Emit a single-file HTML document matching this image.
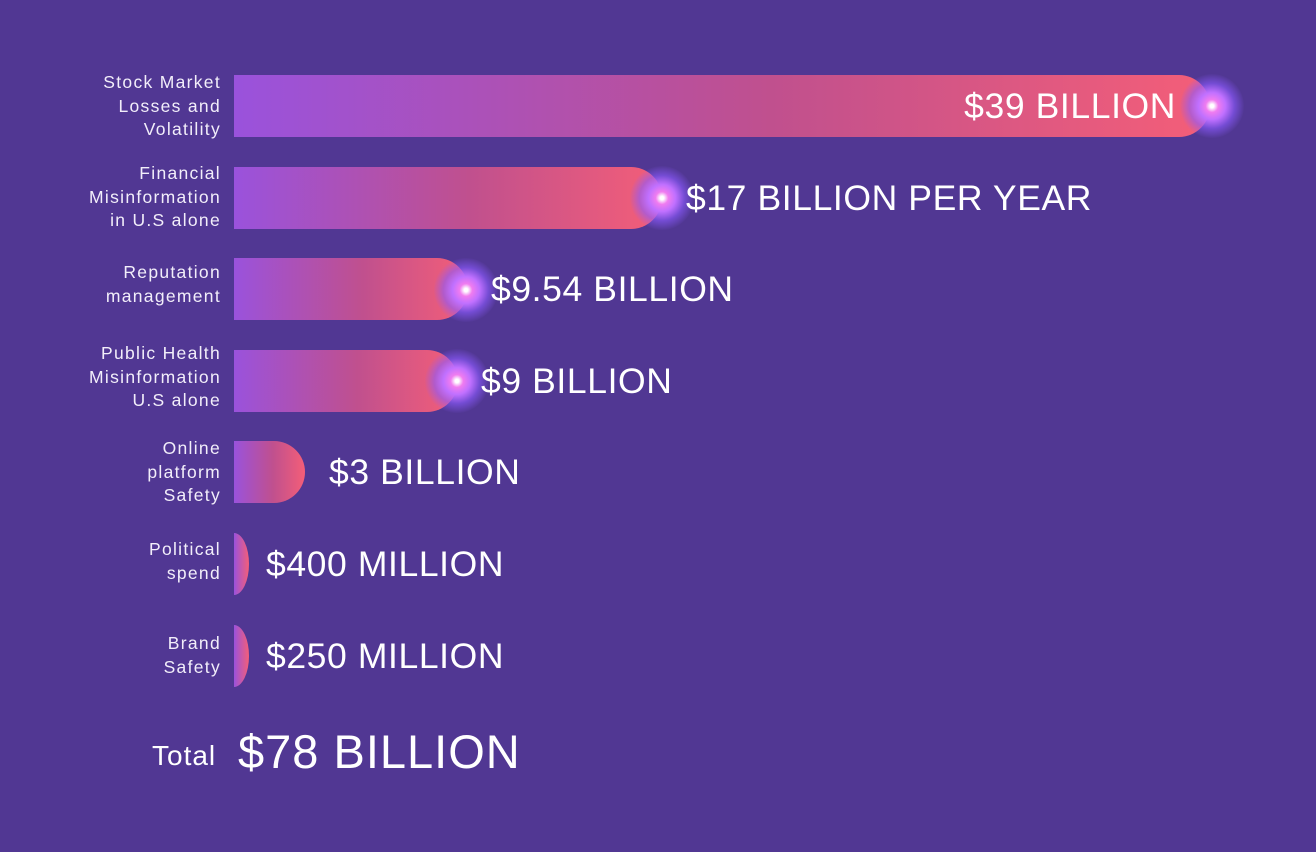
<!DOCTYPE html>
<html><head><meta charset="utf-8"><style>
html,body{margin:0;padding:0}
body{width:1316px;height:852px;background:#513793;position:relative;overflow:hidden;font-family:"Liberation Sans",sans-serif;color:#fff}
.lab{position:absolute;right:1095px;text-align:right;font-size:17.5px;letter-spacing:1.3px;line-height:23.5px;color:#f2eefa}
.bar{position:absolute;left:234px;height:62px;border-radius:0 31px 31px 0;background:linear-gradient(90deg,#9a52dc 0%,#c0508e 55%,#f45e78 100%)}
.bar.s{border-radius:0 100% 100% 0/0 50% 50% 0;background:linear-gradient(90deg,#9a52dc,#f45e78)}
.val{position:absolute;font-size:35.5px;line-height:62px;letter-spacing:0.6px;white-space:nowrap}
.glow{position:absolute;width:64px;height:64px;margin:-32px 0 0 -32px;border-radius:50%;background:radial-gradient(circle,#fff 0,#fff 4%,#f07cf0 14%,#c070ff 30%,rgba(140,90,255,0.6) 50%,rgba(110,70,220,0) 72%)}
</style></head><body>
<div class="lab" style="top:71px">Stock Market<br>Losses and<br>Volatility</div>
<div class="lab" style="top:162px">Financial<br>Misinformation<br>in U.S alone</div>
<div class="lab" style="top:261px">Reputation<br>management</div>
<div class="lab" style="top:342px">Public Health<br>Misinformation<br>U.S alone</div>
<div class="lab" style="top:437px">Online<br>platform<br>Safety</div>
<div class="lab" style="top:538px">Political<br>spend</div>
<div class="lab" style="top:632px">Brand<br>Safety</div>

<div class="bar" style="top:75px;width:976px"></div>
<div class="glow" style="left:1212px;top:106px"></div>
<div class="val" style="top:75px;right:140px">$39 BILLION</div>

<div class="bar" style="top:167px;width:428px"></div>
<div class="glow" style="left:662px;top:198px"></div>
<div class="val" style="top:167px;left:686px">$17 BILLION PER YEAR</div>

<div class="bar" style="top:258px;width:234px"></div>
<div class="glow" style="left:466px;top:290px"></div>
<div class="val" style="top:258px;left:491px">$9.54 BILLION</div>

<div class="bar" style="top:350px;width:224px"></div>
<div class="glow" style="left:457px;top:381px"></div>
<div class="val" style="top:350px;left:481px">$9 BILLION</div>

<div class="bar" style="top:441px;width:71px"></div>
<div class="val" style="top:441px;left:329px">$3 BILLION</div>

<div class="bar s" style="top:533px;width:15px"></div>
<div class="val" style="top:533px;left:266px">$400 MILLION</div>

<div class="bar s" style="top:625px;width:15px"></div>
<div class="val" style="top:625px;left:266px">$250 MILLION</div>

<div style="position:absolute;left:152px;top:738px;font-size:28px;letter-spacing:1px;line-height:36px">Total</div>
<div style="position:absolute;left:238px;top:722px;font-size:47px;line-height:60px;letter-spacing:1px">$78 BILLION</div>
</body></html>
